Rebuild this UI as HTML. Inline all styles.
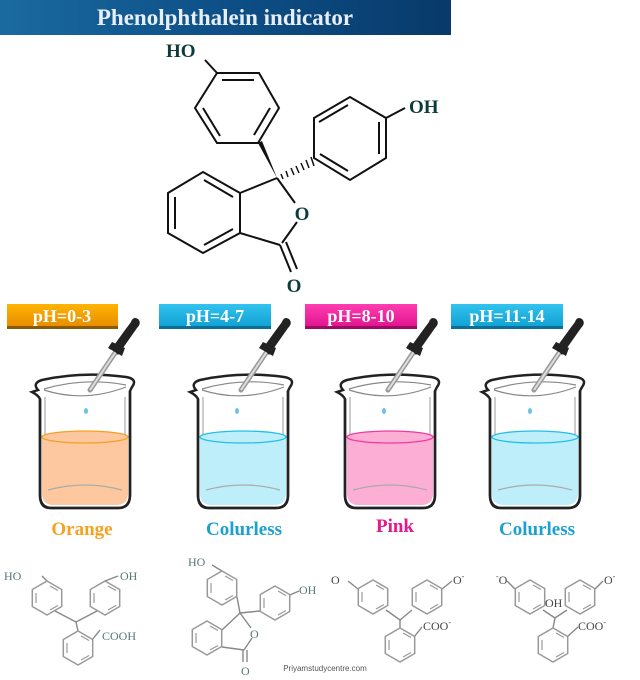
<!DOCTYPE html>
<html><head><meta charset="utf-8"><style>
body{margin:0;background:#fff;width:640px;height:680px;overflow:hidden}
svg{display:block}
.ser{font-family:"Liberation Serif",serif;font-weight:bold}
</style></head><body>
<svg width="640" height="680" viewBox="0 0 640 680" xmlns="http://www.w3.org/2000/svg">
<defs>
<linearGradient id="tb" x1="0" y1="0" x2="1" y2="0"><stop offset="0" stop-color="#1a6aa0"/><stop offset="0.5" stop-color="#0d4f86"/><stop offset="1" stop-color="#083a6a"/></linearGradient>
<linearGradient id="og" x1="0" y1="0" x2="0" y2="1"><stop offset="0" stop-color="#ffb400"/><stop offset="1" stop-color="#e58a00"/></linearGradient>
<linearGradient id="bg" x1="0" y1="0" x2="0" y2="1"><stop offset="0" stop-color="#33c3ee"/><stop offset="1" stop-color="#0f9fd2"/></linearGradient>
<linearGradient id="pg" x1="0" y1="0" x2="0" y2="1"><stop offset="0" stop-color="#ff3db0"/><stop offset="1" stop-color="#e0128e"/></linearGradient>
<g id="hex"><polygon points="0,-17 14.7,-8.5 14.7,8.5 0,17 -14.7,8.5 -14.7,-8.5" fill="none" stroke="#999" stroke-width="1.5"/><line x1="3" y1="-12" x2="11" y2="-7.5" stroke="#999" stroke-width="1.2"/><line x1="11" y1="7.5" x2="3" y2="12" stroke="#999" stroke-width="1.2"/><line x1="-11" y1="-5" x2="-11" y2="5" stroke="#999" stroke-width="1.2"/></g>
<g id="beaker">
<path d="M0,15 Q-6,8 4,5 Q44,-4 88,2 Q100,4 94,12 L92,16 L92,120 Q92,133 80,133 L12,133 Q2,133 2,120 L2,24 Q0,20 -6,17 Z" fill="#fff" stroke="#222" stroke-width="2.5"/>
<path d="M6,14 Q46,2 88,10" fill="none" stroke="#888" stroke-width="1.2"/>
<path d="M6,15 Q46,28 88,12" fill="none" stroke="#888" stroke-width="1.2"/>
<path d="M7,22 L7,118 Q7,128 16,128 L77,128 Q87,128 87,118 L87,22" fill="none" stroke="#bbb" stroke-width="1.5"/>
</g>
</defs>
<rect x="0" y="0" width="451" height="35" fill="url(#tb)"/>
<text x="225" y="25" text-anchor="middle" class="ser" font-size="23" fill="#e8eef5">Phenolphthalein indicator</text>

<!-- main molecule -->
<g stroke="#111" stroke-width="2" fill="none">
<polygon points="217,73 259,73 279,108 258,143 217,143 195,108"/>
<line x1="222" y1="80" x2="254" y2="80"/><line x1="270" y1="108" x2="254" y2="135"/><line x1="220" y1="136" x2="203" y2="108"/>
<line x1="217" y1="73" x2="205" y2="60"/>
<polygon points="314,118 350,97 386,118 386,158 350,180 314,158"/>
<line x1="319" y1="122" x2="348" y2="105"/><line x1="379" y1="122" x2="379" y2="154"/><line x1="320" y1="154" x2="348" y2="171"/>
<line x1="386" y1="118" x2="405" y2="108"/>
<polygon points="240,193 203,172 168,193 168,233 203,253 240,233"/>
<line x1="233" y1="197" x2="204" y2="180"/><line x1="175" y1="197" x2="175" y2="229"/><line x1="204" y1="245" x2="233" y2="229"/>
<line x1="240" y1="193" x2="277" y2="178"/>
<line x1="277" y1="178" x2="295" y2="203"/>
<line x1="297" y1="222" x2="282" y2="243"/>
<line x1="240" y1="233" x2="280" y2="245"/>
<line x1="280" y1="245" x2="291" y2="272"/><line x1="286" y1="242" x2="297" y2="269"/>
</g>
<polygon points="258,143 262,141 277,178" fill="#111"/>
<g stroke="#111" stroke-width="1.5">
<line x1="281" y1="174" x2="283" y2="179"/><line x1="286" y1="171" x2="288" y2="177"/><line x1="291" y1="168" x2="294" y2="175"/><line x1="296" y1="166" x2="299" y2="173"/><line x1="301" y1="163" x2="304" y2="170"/><line x1="306" y1="160" x2="309" y2="168"/><line x1="311" y1="157" x2="314" y2="166"/>
</g>
<g class="ser" font-size="19" fill="#0d3a3a">
<text x="166" y="57">HO</text><text x="409" y="113">OH</text>
<text x="302" y="220" text-anchor="middle">O</text><text x="294" y="292" text-anchor="middle">O</text>
</g>

<!-- labels -->
<g class="ser" font-size="18" fill="#fff" text-anchor="middle">
<rect x="7" y="304" width="111" height="24" fill="url(#og)"/><rect x="7" y="326" width="111" height="3" fill="#8a5a00"/><text x="62" y="322">pH=0-3</text>
<rect x="159" y="304" width="112" height="24" fill="url(#bg)"/><rect x="159" y="326" width="112" height="3" fill="#0b6f99"/><text x="215" y="322">pH=4-7</text>
<rect x="305" y="304" width="112" height="24" fill="url(#pg)"/><rect x="305" y="326" width="112" height="3" fill="#9a0c62"/><text x="361" y="322">pH=8-10</text>
<rect x="451" y="304" width="112" height="24" fill="url(#bg)"/><rect x="451" y="326" width="112" height="3" fill="#0b6f99"/><text x="507" y="322">pH=11-14</text>
</g>

<!-- beakers -->
<g transform="translate(38,375)"><use href="#beaker"/><path d="M4,62 L4,118 Q4,130 16,130 L78,130 Q90,130 90,118 L90,62 Z" fill="#fdc7a0"/><ellipse cx="47" cy="62" rx="43" ry="6" fill="#fdc7a0" stroke="#f4a020" stroke-width="1.3"/></g>
<g transform="translate(196,375)"><use href="#beaker"/><path d="M4,62 L4,118 Q4,130 16,130 L78,130 Q90,130 90,118 L90,62 Z" fill="#bdeefa"/><ellipse cx="47" cy="62" rx="43" ry="6" fill="#bdeefa" stroke="#20c0ea" stroke-width="1.3"/></g>
<g transform="translate(343,375)"><use href="#beaker"/><path d="M4,62 L4,118 Q4,130 16,130 L78,130 Q90,130 90,118 L90,62 Z" fill="#fcaed4"/><ellipse cx="47" cy="62" rx="43" ry="6" fill="#fcaed4" stroke="#f03aa0" stroke-width="1.3"/></g>
<g transform="translate(488,375)"><use href="#beaker"/><path d="M4,62 L4,118 Q4,130 16,130 L78,130 Q90,130 90,118 L90,62 Z" fill="#bdeefa"/><ellipse cx="47" cy="62" rx="43" ry="6" fill="#bdeefa" stroke="#20c0ea" stroke-width="1.3"/></g>
<g fill="none" stroke="#222" stroke-width="2.5">
<path d="M40,399 L40,495 Q40,508 52,508 L118,508 Q130,508 130,495 L130,391"/>
<path d="M198,399 L198,495 Q198,508 210,508 L276,508 Q288,508 288,495 L288,391"/>
<path d="M345,399 L345,495 Q345,508 357,508 L423,508 Q435,508 435,495 L435,391"/>
<path d="M490,399 L490,495 Q490,508 502,508 L568,508 Q580,508 580,495 L580,391"/>
</g>
<g fill="none" stroke="#aaa" stroke-width="1.2">
<path d="M48,490 Q85,480 122,490"/><path d="M206,490 Q243,480 280,490"/><path d="M353,490 Q390,480 427,490"/><path d="M498,490 Q535,480 572,490"/>
</g>
<!-- droppers -->
<g id="drop">
<line x1="90" y1="390" x2="117" y2="350" stroke="#999" stroke-width="5" stroke-linecap="round"/>
<line x1="90" y1="390" x2="117" y2="350" stroke="#ddd" stroke-width="2"/>
<path d="M112,348 L125,330 L131,322 Q133,316 138,319 Q142,323 137,328 L130,338 L118,355 Z" fill="#222"/>
<path d="M108,348 L122,356 L125,348 L112,342 Z" fill="#222"/>
<ellipse cx="86" cy="411" rx="2" ry="3" fill="#6cc3e8"/>
</g>
<use href="#drop" transform="translate(151,0)"/>
<use href="#drop" transform="translate(298,0)"/>
<use href="#drop" transform="translate(444,0)"/>

<g class="ser" font-size="19" text-anchor="middle">
<text x="82" y="535" fill="#f7a21e">Orange</text>
<text x="244" y="535" fill="#1ba0cf">Colurless</text>
<text x="395" y="532" fill="#e6168c">Pink</text>
<text x="537" y="535" fill="#1ba0cf">Colurless</text>
</g>

<!-- bottom molecules -->
<g stroke="#888" stroke-width="1.4" fill="none">
<line x1="55" y1="611" x2="76" y2="622"/><line x1="97" y1="611" x2="76" y2="622"/><line x1="76" y1="622" x2="78" y2="631"/>
<line x1="47" y1="581" x2="42" y2="576"/><line x1="105" y1="581" x2="118" y2="576"/><line x1="92" y1="640" x2="100" y2="630"/>
<line x1="237" y1="597" x2="240" y2="613"/><line x1="260" y1="611" x2="240" y2="613"/><line x1="222" y1="630" x2="240" y2="613"/><line x1="240" y1="613" x2="251" y2="628"/><line x1="222" y1="647" x2="244" y2="650"/><line x1="252" y1="638" x2="244" y2="650"/><line x1="243" y1="650" x2="243" y2="662"/><line x1="247" y1="650" x2="247" y2="662"/><line x1="222" y1="571" x2="212" y2="565"/><line x1="290" y1="595" x2="299" y2="591"/>
<line x1="386" y1="610" x2="400" y2="620"/><line x1="412" y1="610" x2="400" y2="620"/><line x1="400" y1="620" x2="400" y2="628"/><line x1="358" y1="589" x2="348" y2="581"/><line x1="442" y1="589" x2="452" y2="581"/><line x1="414" y1="637" x2="422" y2="627"/>
<line x1="543" y1="610" x2="555" y2="618"/><line x1="567" y1="610" x2="555" y2="618"/><line x1="555" y1="618" x2="553" y2="628"/><line x1="515" y1="589" x2="507" y2="581"/><line x1="595" y1="589" x2="603" y2="581"/><line x1="567" y1="637" x2="578" y2="627"/>
</g>
<use href="#hex" transform="translate(47,598)"/><use href="#hex" transform="translate(105,598)"/><use href="#hex" transform="translate(78,648)"/>
<use href="#hex" transform="translate(222,588)"/><use href="#hex" transform="translate(275,603)"/><use href="#hex" transform="translate(207,638)"/>
<use href="#hex" transform="translate(373,597)"/><use href="#hex" transform="translate(427,597)"/><use href="#hex" transform="translate(400,645)"/>
<use href="#hex" transform="translate(530,597)"/><use href="#hex" transform="translate(580,597)"/><use href="#hex" transform="translate(553,645)"/>
<g font-family="Liberation Serif,serif" font-size="12" fill="#557777">
<text x="4" y="580">HO</text><text x="120" y="580">OH</text><text x="102" y="640">COOH</text>
<text x="188" y="566">HO</text><text x="299" y="594">OH</text><text x="250" y="638">O</text><text x="241" y="675">O</text>
<text x="331" y="584" fill="#444">O</text><text x="453" y="584" fill="#444">O<tspan font-size="8" dy="-5">-</tspan></text><text x="423" y="630" fill="#444">COO<tspan font-size="8" dy="-5">-</tspan></text>
<text x="496" y="584" fill="#444"><tspan font-size="8" dy="-5">-</tspan><tspan dy="5">O</tspan></text><text x="545" y="607" fill="#444">OH</text><text x="604" y="584" fill="#444">O<tspan font-size="8" dy="-5">-</tspan></text><text x="578" y="630" fill="#444">COO<tspan font-size="8" dy="-5">-</tspan></text>
</g>
<text x="325" y="671" text-anchor="middle" font-family="Liberation Sans,sans-serif" font-size="8" fill="#555">Priyamstudycentre.com</text>
</svg>
</body></html>
